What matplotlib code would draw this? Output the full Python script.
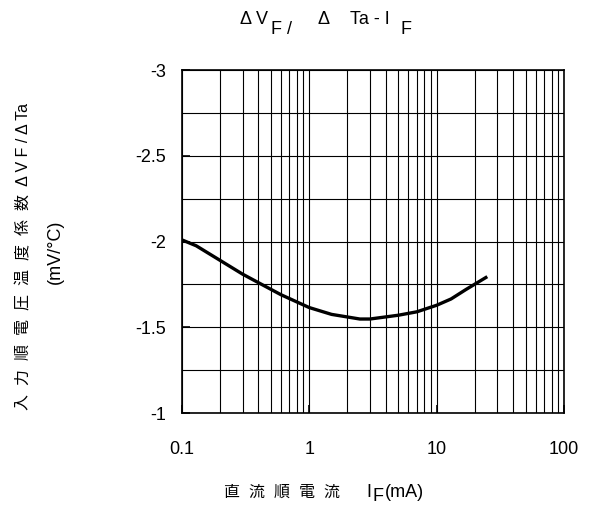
"""
Forward voltage temperature coefficient vs forward current
"""

import numpy as np
import matplotlib
matplotlib.use('Agg')
import matplotlib.pyplot as plt
from matplotlib.ticker import FixedLocator, FixedFormatter, NullFormatter

plt.rcParams['font.family'] = ['Liberation Sans', 'Noto Sans CJK JP', 'DejaVu Sans']

# curve
if_ma = [0.1, 0.13, 0.2, 0.3, 0.4, 0.6, 1.0, 1.5, 2.5, 3.0, 5.0, 7.0, 10, 13, 17, 25]
dvf_dta = [-2.01, -1.975, -1.89, -1.81, -1.76, -1.69, -1.615, -1.575, -1.548,
           -1.548, -1.57, -1.59, -1.628, -1.665, -1.72, -1.795]

x_ticks = [0.1, 1, 10, 100]
x_tick_labels = ['0.1', '1', '10', '100']
y_ticks = [-1, -1.5, -2, -2.5, -3]
y_tick_labels = ['-1', '-1.5', '-2', '-2.5', '-3']
y_grid = [-1.25, -1.75, -2.25, -2.75]

W, H = 591, 521
fig = plt.figure(figsize=(W / 100, H / 100), dpi=100)
ax = fig.add_axes([181.7 / W, 1 - 413 / H, (564 - 181.7) / W, (413 - 70) / H])

ax.plot(if_ma, dvf_dta, color='black', linewidth=2.4, solid_capstyle='butt', zorder=3)

ax.set_xscale('log')
ax.set_xlim(0.1, 100)
ax.set_ylim(-1, -3)

ax.xaxis.set_major_locator(FixedLocator(x_ticks))
ax.xaxis.set_major_formatter(FixedFormatter(x_tick_labels))
ax.xaxis.set_minor_locator(FixedLocator(
    [m * d for d in (0.1, 1, 10) for m in range(2, 10)]))
ax.xaxis.set_minor_formatter(NullFormatter())
ax.yaxis.set_major_locator(FixedLocator(y_ticks))
ax.yaxis.set_major_formatter(FixedFormatter(y_tick_labels))
ax.yaxis.set_minor_locator(FixedLocator(y_grid))

ax.grid(True, which='both', color='black', linewidth=0.8)
ax.tick_params(which='major', direction='in', length=6, width=1.2, labelsize=13)
ax.tick_params(which='minor', direction='in', length=0)
ax.tick_params(axis='y', pad=11)
ax.tick_params(axis='x', pad=20)
for sp in ax.spines.values():
    sp.set_linewidth(1.2)

# title with lowered F subscripts
fs = 13
tb, sb = 1 - 23.5 / H, 1 - 34.5 / H
fig.text(240 / W, tb, 'Δ V', fontsize=fs, va='baseline', ha='left')
fig.text(271 / W, sb, 'F /', fontsize=fs, va='baseline', ha='left')
fig.text(317 / W, tb, 'Δ', fontsize=fs, va='baseline', ha='left')
fig.text(350 / W, tb, 'Ta - I', fontsize=fs, va='baseline', ha='left')
fig.text(400 / W, sb, 'F', fontsize=fs, va='baseline', ha='left')

# x label
xb = 1 - 497 / H
fig.text(224 / W, xb, '直  流  順  電  流', fontsize=11.5, va='baseline', ha='left')
fig.text(366 / W, xb, 'I', fontsize=13, va='baseline', ha='left')
fig.text(372 / W, 1 - 501 / H, 'F', fontsize=13, va='baseline', ha='left')
fig.text(385 / W, xb, '(mA)', fontsize=13, va='baseline', ha='left')

# y label, two lines
fig.text(24 / W, 1 - 256 / H, '入  力  順  電  圧  温  度  係  数  Δ V F / Δ Ta',
         fontsize=11.5, rotation=90, va='center', ha='center')
fig.text(55 / W, 1 - 252 / H, '(mV/°C)', fontsize=13,
         rotation=90, va='center', ha='center')

fig.savefig('out.png', dpi=100)
